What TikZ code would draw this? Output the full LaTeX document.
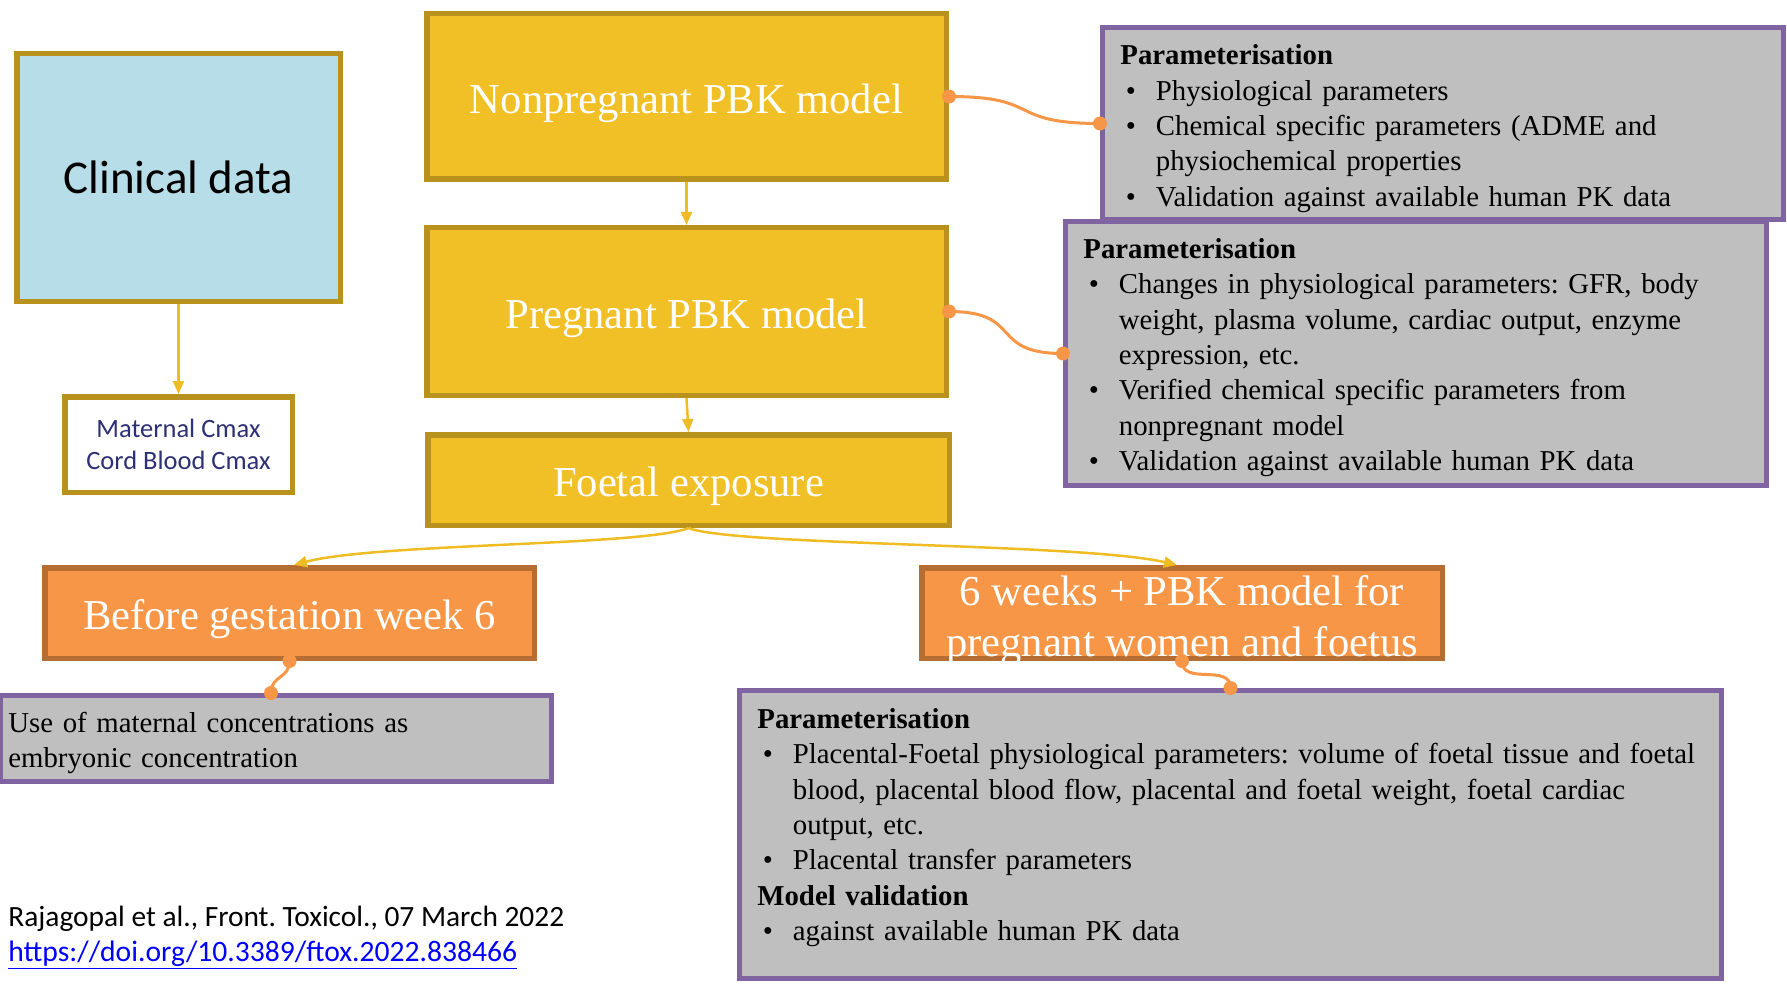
\documentclass[tikz,border=0pt]{standalone}
\usepackage{fontspec}
\setmainfont{Liberation Serif}
\newfontfamily\calibri{Carlito}
\usetikzlibrary{arrows.meta,calc}
\definecolor{yfill}{HTML}{F1C027}
\definecolor{yborder}{HTML}{B8921C}
\definecolor{yline}{HTML}{F0BC24}
\definecolor{cfill}{HTML}{B7DEE8}
\definecolor{ofill}{HTML}{F79646}
\definecolor{oborder}{HTML}{B66D31}
\definecolor{grayf}{HTML}{BFBFBF}
\definecolor{purp}{HTML}{8064A2}
\definecolor{navy}{HTML}{2E3076}
\definecolor{linkblue}{HTML}{0000FF}
\newcommand{\bitem}[1]{\par\noindent\hangindent=17.75pt\hangafter=1\hspace*{2.75pt}\makebox[15pt][l]{\textbullet}#1}
\frenchspacing
\begin{document}
\frenchspacing
\begin{tikzpicture}[x=0.5pt,y=-0.5pt,
  ybox/.style={draw=yborder, fill=yfill, line width=2.75pt, inner sep=0pt, text=white, font=\fontsize{21.3}{25.5}\selectfont, align=center, text height=16.6pt, text depth=0pt},
  obox/.style={ybox, draw=oborder, fill=ofill},
  mtext/.style={inner sep=0pt, text=white, font=\fontsize{21.3}{25.5}\selectfont, align=center},
  pbox/.style={draw=purp, fill=grayf, line width=2.5pt, inner sep=0pt},
  ptext/.style={inner sep=0pt, align=left, font=\frenchspacing\fontsize{14.4}{17.65}\selectfont, text width=#1},
  ptext/.default=480pt,
  yarrow/.style={draw=yline, line width=1.25pt, -{Triangle[length=6.5pt,width=5.5pt]}},
  oconn/.style={draw=ofill, line width=1.5pt},
  odot/.style={fill=ofill},
]
\useasboundingbox (0,0) rectangle (1787,984);

% left column
\node[ybox, fill=cfill, text=black, font=\calibri\fontsize{23.5}{28}\selectfont, text height=, text depth=, minimum width=161.75pt, minimum height=123.75pt] (clin) at (178.5,177.5) {Clinical data};
\node[ybox, fill=white, text=navy, font=\calibri\fontsize{13.25}{16}\selectfont, text height=, text depth=, minimum width=113.75pt, minimum height=47.75pt] (mat) at (178.5,444.5) {Maternal Cmax\\Cord Blood Cmax};

% central column
\node[ybox, minimum width=259.75pt, minimum height=82.75pt] (nonpreg) at (686.5,96.5) {Nonpregnant PBK model};
\node[ybox, minimum width=259.75pt, minimum height=83.75pt] (preg) at (686.5,311.5) {Pregnant PBK model};
\node[ybox, minimum width=260.75pt, minimum height=45.25pt] (foetal) at (688.5,480) {Foetal exposure};
\node[obox, minimum width=244.75pt, minimum height=45.25pt] (before) at (289.5,613) {Before gestation week 6};
\node[obox, minimum width=260.25pt, minimum height=45.25pt] (sixw) at (1182,613) {};
\node[mtext] (sixwt) at ($(sixw.center)+(0,8)$) {6 weeks + PBK model for\\pregnant women and foetus};

% parameter boxes
\node[pbox, minimum width=340.5pt, minimum height=96pt] (p1) at (1443,123.5) {};
\node[ptext] (p1t) [anchor=base west] at (1120,65) {\textbf{Parameterisation}
\bitem{Physiological parameters}
\bitem{Chemical specific parameters (ADME and\newline physiochemical properties}
\bitem{Validation against available human PK data}};

\node[pbox, minimum width=350.5pt, minimum height=132pt] (p2) at (1416,353.5) {};
\node[ptext] (p2t) [anchor=base west] at (1083,258.5) {\textbf{Parameterisation}
\bitem{Changes in physiological parameters: GFR, body\newline weight, plasma volume, cardiac output, enzyme\newline expression, etc.}
\bitem{Verified chemical specific parameters from\newline nonpregnant model}
\bitem{Validation against available human PK data}};

\node[pbox, minimum width=275.5pt, minimum height=43pt] (use) at (276,738.5) {};
\node[ptext] (uset) [anchor=base west] at (8,732) {Use of maternal concentrations as\newline embryonic concentration};

\node[pbox, minimum width=491pt, minimum height=144pt] (big) at (1230.5,834.5) {};
\node[ptext=500pt] (bigt) [anchor=base west] at (757,728.5) {\textbf{Parameterisation}
\bitem{Placental-Foetal physiological parameters: volume of foetal tissue and foetal\newline blood, placental blood flow, placental and foetal weight, foetal cardiac\newline output, etc.}
\bitem{Placental transfer parameters}
\par\noindent\textbf{Model validation}
\bitem{against available human PK data}};

% citation
\node[inner sep=0pt, anchor=base west, font=\calibri\fontsize{14.7}{17.5}\selectfont] (cite) at (8,926) {Rajagopal et al., Front. Toxicol., 07 March 2022};
\node[inner sep=0pt, anchor=base west, text=linkblue, font=\calibri\fontsize{14.8}{17.5}\selectfont] (doi) at (8,961) {\underline{https://doi.org/10.3389/ftox.2022.838466}};

% yellow arrows
\draw[yarrow] (clin.south) -- (mat.north);
\draw[yarrow] (nonpreg.south) -- (preg.north);
\draw[yarrow] (preg.south) -- (foetal.north);
\draw[yarrow] (foetal.south) .. controls ($(foetal.south)+(-45,18)$) and ($(before.north)+(87,-22)$) .. ([xshift=2.25pt]before.north);
\draw[yarrow] (foetal.south) .. controls ($(foetal.south)+(45,18)$) and ($(sixw.north)+(-100,-22)$) .. ([xshift=-2.5pt]sixw.north);

% orange connectors
\coordinate (usetop) at ([xshift=-2.5pt]use.north);
\draw[oconn] (nonpreg.east) .. controls ($(nonpreg.east)+(95,0)$) and ($(p1.west)+(-95,0)$) .. (p1.west);
\draw[oconn] (preg.east) .. controls ($(preg.east)+(75,0)$) and ($(p2.west)+(-75,0)$) .. (p2.west);
\draw[oconn] (before.south) .. controls ($(before.south)+(0,18)$) and ($(usetop)+(0,-18)$) .. (usetop);
\draw[oconn] (sixw.south) .. controls ($(sixw.south)+(0,25)$) and ($(big.north)+(0,-25)$) .. (big.north);
\fill[odot] (nonpreg.east) circle[radius=3.5pt];
\fill[odot] (p1.west) circle[radius=3.5pt];
\fill[odot] (preg.east) circle[radius=3.5pt];
\fill[odot] (p2.west) circle[radius=3.5pt];
\fill[odot] (before.south) circle[radius=3.5pt];
\fill[odot] (usetop) circle[radius=3.5pt];
\fill[odot] (sixw.south) circle[radius=3.5pt];
\fill[odot] (big.north) circle[radius=3.5pt];
\end{tikzpicture}
\end{document}
